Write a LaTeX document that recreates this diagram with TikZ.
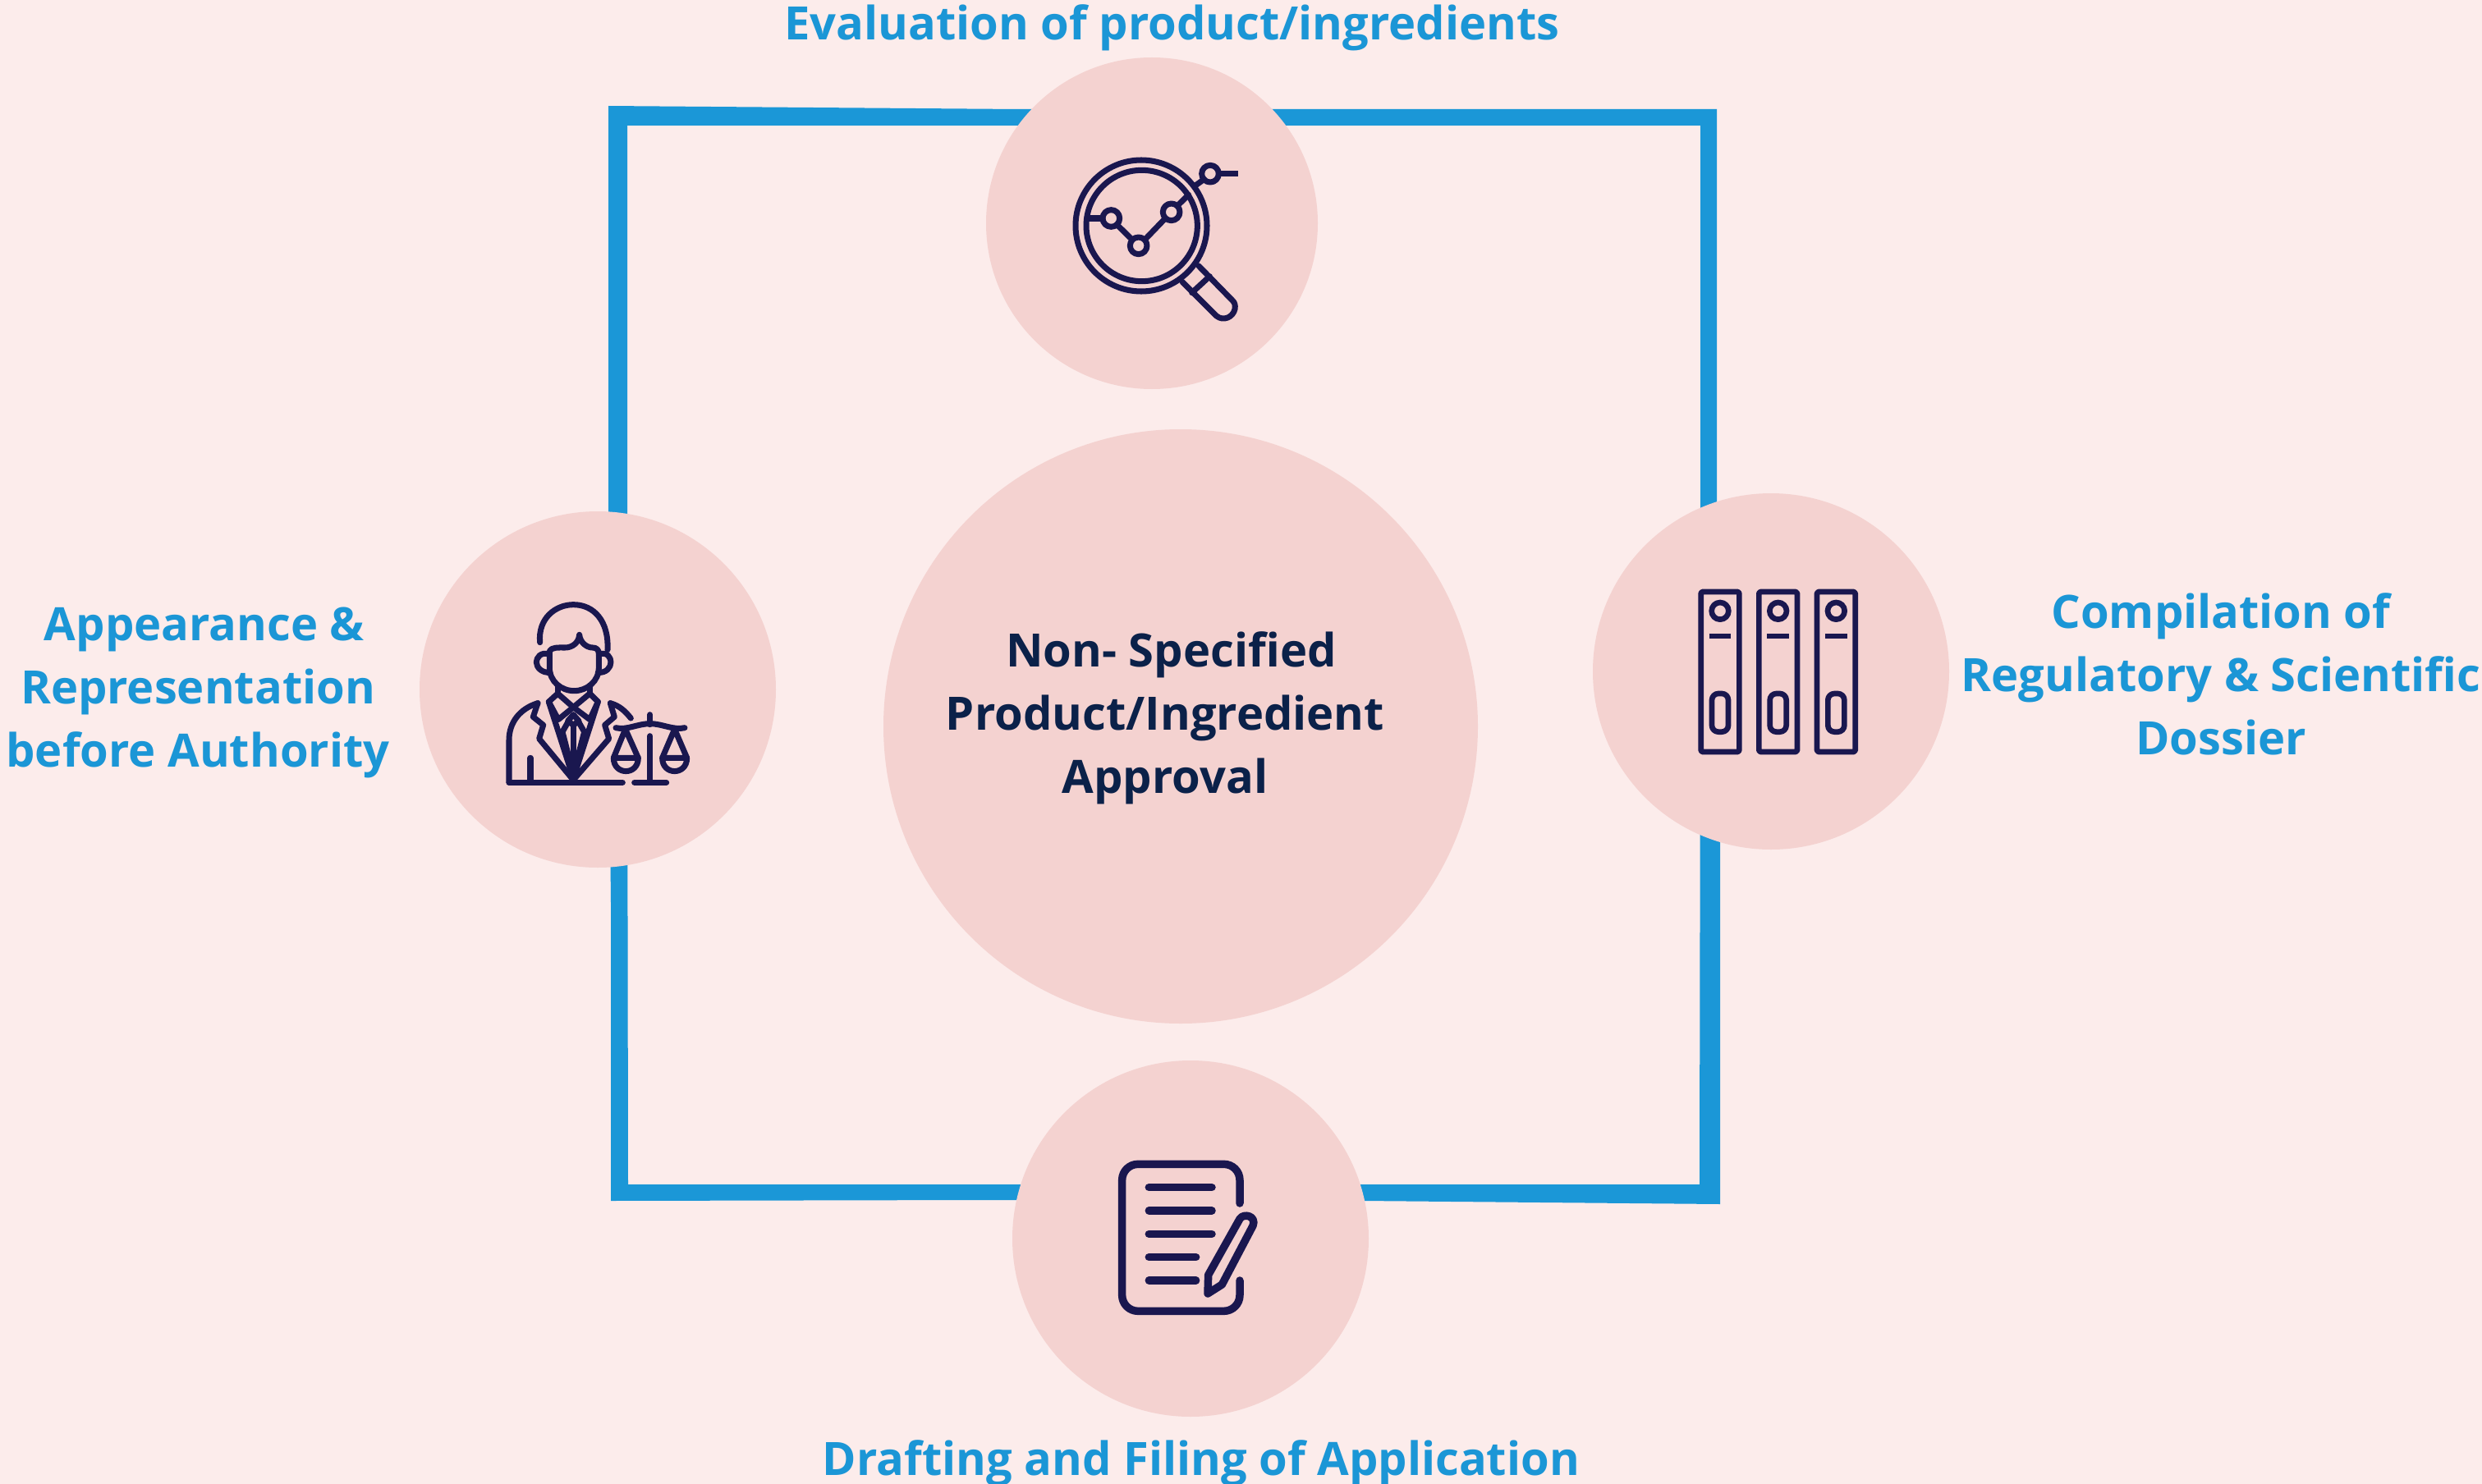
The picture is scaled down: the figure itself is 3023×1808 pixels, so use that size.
\documentclass[tikz,border=0pt]{standalone}
\usepackage{fontspec}
\setmainfont{Open Sans}
\definecolor{bgc}{HTML}{FCECEB}
\definecolor{circ}{HTML}{F4D2D0}
\definecolor{sq}{HTML}{1B97D7}
\definecolor{lab}{HTML}{1B96D6}
\definecolor{navy}{HTML}{0B2149}
\definecolor{ico}{HTML}{1A174F}
\tikzset{
  disc/.style={circle,fill=circ,inner sep=0pt,minimum size=#1},
  lbl/.style={text=lab,font=\fontsize{31.9}{43.8}\selectfont\bfseries,align=center,inner sep=0pt},
  ctr/.style={text=navy,font=\fontsize{31.9}{43.8}\selectfont\bfseries,align=center,inner sep=0pt},
  icon/.style={draw=ico,line width=4pt,line cap=round,line join=round},
  iconb/.style={draw=ico,line width=5.4pt,line cap=round,line join=round},
  iconc/.style={draw=ico,line width=3.8pt,line cap=butt,line join=round}
}
\begin{document}
\begin{tikzpicture}[x=0.02cm,y=-0.02cm]
\useasboundingbox (0,0) rectangle (3023,1808);
\clip (0,0) rectangle (3023,1808);
\fill[bgc] (0,0) rectangle (3023,1808);
% hand-cut square frame
\fill[sq,even odd rule]
  (741,129) -- (1240,133) -- (2091,133) -- (2091,800) -- (2095,1020) -- (2095,1467) -- (1660,1463) -- (1200,1462) -- (744,1463) -- (744,1100) -- (741,800) -- cycle
  (764,153) -- (2071,153) -- (2071,800) -- (2070,1443) -- (765,1443) -- (764,800) -- cycle;
\node[disc=404*0.02cm] (top) at (1403,272) {};
\node[disc=434*0.02cm] (left) at (728,840) {};
\node[disc=434*0.02cm] (right) at (2157,818) {};
\node[disc=434*0.02cm] (bottom) at (1450,1509) {};
\node[disc=724*0.02cm] (centre) at (1438,885) {};

\node[ctr] (ctext) at (1419,875) {\hspace*{8.5pt}Non- Specified\\Product/Ingredient\\Approval};
\node[lbl] (ltop) at (1427.5,34) {Evaluation of product/ingredients};
\node[lbl] (lbottom) at (1463,1783) {Drafting and Filing of Application};
\node[lbl] (lleft) at (241,844) {\hspace*{9pt}Appearance \&\\Representation\\before Authority};
\node[lbl] (lright) at (2705,821) {Compilation of\\Regulatory \& Scientific\\Dossier};

% magnifier
\begin{scope}[shift={(1260,160)},scale=1/3]
\draw[icon] (390,345) circle (240);
\draw[icon] (392,345) circle (203);
\draw[icon] (280,318) circle (31);
\draw[icon] (380,418) circle (31);
\draw[icon] (500,295) circle (31);
\draw[icon] (642,155) circle (31);
\draw[icon] (192,318) -- (249,318);
\draw[icon] (302,342) -- (357,396);
\draw[icon] (403,396) -- (478,318);
\draw[icon] (522,272) -- (563,232);
\draw[icon] (592,195) -- (620,175);
\draw[iconc] (673,155) -- (745,155);
\draw[icon] (540,550) -- (665,675) .. controls (690,695) and (725,680) .. (732,650) .. controls (735,635) and (730,625) .. (725,620) -- (600,492);
\draw[icon] (575,590) -- (640,530);
\end{scope}

% lawyer
\begin{scope}[shift={(590,710)},scale=1/3]
\draw[icon] (203,218) .. controls (195,130) and (260,80) .. (325,80) .. controls (400,80) and (455,140) .. (450,245);
\draw[icon] (238,250) .. controls (245,235) and (270,237) .. (295,237) .. controls (320,237) and (345,220) .. (347,190) .. controls (350,220) and (375,237) .. (395,237) .. controls (410,237) and (418,245) .. (418,260) -- (418,310) .. controls (418,360) and (375,395) .. (328,395) .. controls (280,395) and (238,360) .. (238,310) -- cycle;
\draw[icon] (238,262) .. controls (205,250) and (190,275) .. (190,290) .. controls (190,310) and (210,330) .. (240,328);
\draw[icon] (418,262) .. controls (450,250) and (462,275) .. (462,290) .. controls (462,310) and (445,330) .. (415,328);
\draw[icon] (268,375) -- (268,410);
\draw[icon] (385,375) -- (385,410);
\draw[icon] (268,405) -- (235,435) -- (270,500) -- (325,455) -- (385,500) -- (415,435) -- (385,405);
\draw[icon] (268,405) -- (325,455) -- (385,405);
\draw[icon] (325,482) -- (345,505) -- (325,520) -- (305,505) -- cycle;
\draw[icon] (305,510) -- (285,545) -- (325,700) -- (365,545) -- (345,510);
\draw[icon] (235,435) -- (325,715) -- (415,435);
\draw[icon] (325,520) -- (325,700);
\draw[icon] (195,440) .. controls (130,460) and (90,510) .. (90,575) -- (90,730);
\draw[icon] (195,440) -- (178,490) -- (215,520) -- (200,570) -- (320,715);
\draw[icon] (460,440) -- (475,490) -- (440,520) -- (455,570) -- (330,715);
\draw[icon] (460,440) .. controls (495,450) and (515,470) .. (535,495);
\draw[icon] (168,640) -- (168,730);
\draw[icon] (90,730) -- (505,730);
\draw[icon] (548,730) -- (665,730);
\draw[icon] (605,560) -- (605,730);
\draw[icon] (605,482) -- (605,518);
\draw[icon] (480,530) .. controls (520,540) and (560,515) .. (605,515) .. controls (650,515) and (690,540) .. (732,530);
\draw[icon] (515,535) -- (472,640) -- (562,640) -- cycle;
\draw[icon] (472,640) .. controls (472,705) and (562,705) .. (562,640);
\draw[icon] (695,535) -- (650,640) -- (740,640) -- cycle;
\draw[icon] (650,640) .. controls (650,705) and (740,705) .. (740,640);
\end{scope}

% binders
\foreach \dx in {0,212,424}{
\begin{scope}[shift={(2040,700)},scale=1/3,shift={(\dx,0)}]
\draw[icon,line width=3.8pt,rounded corners=1pt] (95,63) rectangle (235,648);
\draw[icon,line width=3.8pt] (165,133) circle (31);
\draw[iconc] (125,225) -- (205,225);
\draw[icon,line width=3.8pt,rounded corners=4.5pt] (135,435) rectangle (195,575);
\end{scope}
}

% document
\begin{scope}[shift={(1340,1390)},scale=1/3]
\draw[iconb,rounded corners=11pt] (510,228) -- (510,85) -- (80,85) -- (80,622) -- (510,622) -- (510,510);
\draw[iconb] (178,170) -- (408,170);
\draw[iconb] (178,255) -- (408,255);
\draw[iconb] (178,340) -- (408,340);
\draw[iconb] (178,425) -- (350,425);
\draw[iconb] (178,510) -- (350,510);
\draw[iconb] (393,558) -- (395,490) -- (510,285) .. controls (525,262) and (572,275) .. (558,310) -- (445,525) -- cycle;
\end{scope}
\end{tikzpicture}
\end{document}
